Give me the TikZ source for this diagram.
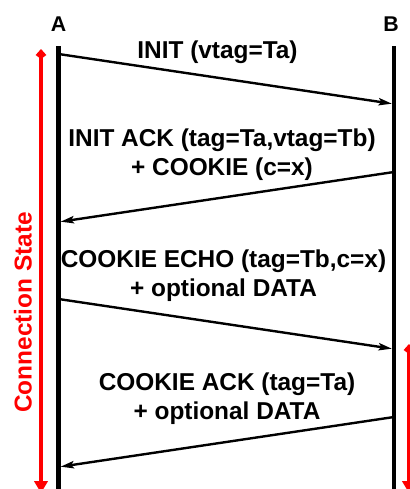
\documentclass[tikz,border=0pt]{standalone}
\usepackage{fontspec}
\setmainfont{Liberation Sans}
\usepackage{tikz}
\usetikzlibrary{arrows.meta}

\begin{document}
\begin{tikzpicture}[x=0.75pt,y=-0.75pt]
      \tikzstyle{point} = [coordinate]
      \tikzstyle{host} = [font=\fontsize{16}{19}\selectfont\bfseries]
      \tikzstyle{msg} = [align=center, inner sep=0pt, font=\fontsize{18.3}{22}\selectfont\bfseries]
      \tikzstyle{timeline} = [line width=3.2pt]
      \tikzstyle{packet} = [line width=1.8pt, -{Stealth[length=10pt,width=5.5pt,inset=2pt]}, shorten >=1.6pt, shorten <=1.6pt]
      \tikzstyle{state} = [red, line width=3.3pt, {Kite[length=7.5pt,width=8pt,inset=3pt]}-{Triangle[length=9pt,width=10pt]}]
      \useasboundingbox (0,0) rectangle (410,489);
      % hosts
      \node (A) [host] at (58.5,24.5) {A};
      \node (B) [host] at (391,24.5) {B};
      \node (a0) [point] at (58.5,46) {};
      \node (a9) [point] at (58.5,495) {};
      \node (b0) [point] at (394,46) {};
      \node (b9) [point] at (394,495) {};
      % message ends
      \node (a1) [point] at (58.5,54) {};
      \node (b1) [point] at (394,104) {};
      \node (b2) [point] at (394,172) {};
      \node (a2) [point] at (58.5,222) {};
      \node (a3) [point] at (58.5,299) {};
      \node (b3) [point] at (394,349) {};
      \node (b4) [point] at (394,417) {};
      \node (a4) [point] at (58.5,467) {};
      % messages
      \node (m1) [msg] at (217.5,52) {INIT (vtag=Ta)};
      \node (m2) [msg] at (222,155) {INIT ACK (tag=Ta,vtag=Tb)\\+ COOKIE (c=x)};
      \node (m3) [msg] at (223.5,276) {COOKIE ECHO (tag=Tb,c=x)\\+ optional DATA};
      \node (m4) [msg] at (227,399) {COOKIE ACK (tag=Ta)\\+ optional DATA};
      % connection state
      \node (cs) [msg, red, rotate=90] at (23,312.5) {Connection State};
      \node (s1) [point] at (41,49) {};
      \node (s2) [point] at (41,493) {};
      \node (s3) [point] at (409,344) {};
      \node (s4) [point] at (409,493) {};
      \draw [timeline] (a0)--(a9);
      \draw [timeline] (b0)--(b9);
      \draw [packet] (a1)--(b1);
      \draw [packet] (b2)--(a2);
      \draw [packet] (a3)--(b3);
      \draw [packet] (b4)--(a4);
      \draw [state] (s1)--(s2);
      \draw [state] (s3)--(s4);
    \end{tikzpicture}
\end{document}
